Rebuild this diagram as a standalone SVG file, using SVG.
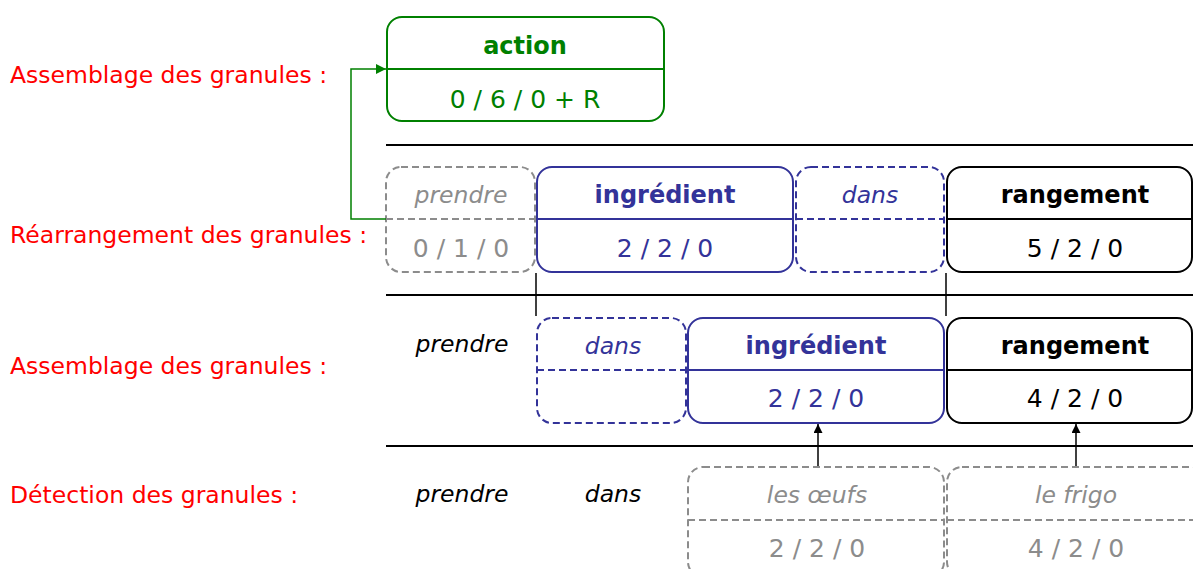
<svg xmlns="http://www.w3.org/2000/svg" width="1193" height="569" viewBox="0 0 1193 569">
<defs>
<style>
text{font-family:"DejaVu Sans","Liberation Sans",sans-serif;text-anchor:middle}
.lbl{fill:#ff0000;font-size:23.5px;text-anchor:start}
.ttl{font-size:24px;font-weight:bold}
.num{font-size:25px}
.it{font-size:23.5px;font-style:italic}
.box{fill:none;stroke-width:2}
.dash{stroke-dasharray:7 4}
.g{stroke:#008000}.gf{fill:#008000}
.b{stroke:#333399}.bf{fill:#333399}
.k{stroke:#000}.kf{fill:#000}
.y{stroke:#8c8c8c}.yf{fill:#8c8c8c}
.rule{stroke:#000;stroke-width:2}
</style>
<marker id="ag" markerWidth="10" markerHeight="10" refX="10" refY="5" orient="auto" markerUnits="userSpaceOnUse"><path d="M0,0 L10,5 L0,10 z" fill="#008000"/></marker>
<marker id="ak" markerWidth="9" markerHeight="9" refX="9" refY="4.5" orient="auto" markerUnits="userSpaceOnUse"><path d="M0,0 L9,4.5 L0,9 z" fill="#000"/></marker>
</defs>
<rect width="1193" height="569" fill="#fff"/>

<g id="labels">
<text class="lbl" x="10" y="83">Assemblage des granules :</text>
<text class="lbl" x="10" y="243">Réarrangement des granules :</text>
<text class="lbl" x="10" y="374">Assemblage des granules :</text>
<text class="lbl" x="10" y="503">Détection des granules :</text>
</g>

<g id="rules">
<line class="rule" x1="386" y1="145" x2="1193" y2="145"/>
<line class="rule" x1="386" y1="295" x2="1193" y2="295"/>
<line class="rule" x1="386" y1="446" x2="1193" y2="446"/>
</g>

<g id="action">
<rect class="box g" x="387" y="17" width="277" height="104" rx="15"/>
<line class="g" stroke-width="2" x1="387" y1="69" x2="664" y2="69"/>
<text class="ttl gf" x="525" y="54">action</text>
<text class="num gf" x="525" y="108">0 / 6 / 0 + R</text>
</g>

<g id="r2-prendre">
<rect class="box y dash" x="386" y="167" width="149" height="105" rx="15"/>
<line class="y dash" stroke-width="2" x1="386" y1="219" x2="535" y2="219"/>
<text class="it yf" x="461" y="203">prendre</text>
<text class="num yf" x="461" y="257">0 / 1 / 0</text>
</g>
<g id="r2-ingredient">
<rect class="box b" x="537" y="167" width="256" height="105" rx="15"/>
<line class="b" stroke-width="2" x1="537" y1="219" x2="793" y2="219"/>
<text class="ttl bf" x="665" y="203">ingrédient</text>
<text class="num bf" x="665" y="257">2 / 2 / 0</text>
</g>
<g id="r2-dans">
<rect class="box b dash" x="796" y="167" width="148" height="105" rx="15"/>
<line class="b dash" stroke-width="2" x1="796" y1="219" x2="944" y2="219"/>
<text class="it bf" x="870" y="203">dans</text>
</g>
<g id="r2-rangement">
<rect class="box k" x="947" y="167" width="245" height="105" rx="15"/>
<line class="k" stroke-width="2" x1="947" y1="219" x2="1192" y2="219"/>
<text class="ttl kf" x="1075" y="203">rangement</text>
<text class="num kf" x="1075" y="257">5 / 2 / 0</text>
</g>

<g id="r3-prendre">
<text class="it kf" x="462" y="352">prendre</text>
</g>
<g id="r3-dans">
<rect class="box b dash" x="537" y="318" width="149" height="105" rx="15"/>
<line class="b dash" stroke-width="2" x1="537" y1="370" x2="686" y2="370"/>
<text class="it bf" x="613" y="354">dans</text>
</g>
<g id="r3-ingredient">
<rect class="box b" x="688" y="318" width="256" height="105" rx="15"/>
<line class="b" stroke-width="2" x1="688" y1="370" x2="944" y2="370"/>
<text class="ttl bf" x="816" y="354">ingrédient</text>
<text class="num bf" x="816" y="407">2 / 2 / 0</text>
</g>
<g id="r3-rangement">
<rect class="box k" x="947" y="318" width="245" height="105" rx="15"/>
<line class="k" stroke-width="2" x1="947" y1="370" x2="1192" y2="370"/>
<text class="ttl kf" x="1075" y="354">rangement</text>
<text class="num kf" x="1075" y="407">4 / 2 / 0</text>
</g>

<g id="r4-prendre">
<text class="it kf" x="462" y="502">prendre</text>
</g>
<g id="r4-dans">
<text class="it kf" x="613" y="502">dans</text>
</g>
<g id="r4-oeufs">
<rect class="box y dash" x="688" y="467" width="256" height="110" rx="15"/>
<line class="y dash" stroke-width="2" x1="688" y1="520" x2="944" y2="520"/>
<text class="it yf" x="817" y="503">les œufs</text>
<text class="num yf" x="817" y="557">2 / 2 / 0</text>
</g>
<g id="r4-frigo">
<rect class="box y dash" x="947" y="467" width="260" height="110" rx="15"/>
<line class="y dash" stroke-width="2" x1="947" y1="520" x2="1193" y2="520"/>
<text class="it yf" x="1076" y="503">le frigo</text>
<text class="num yf" x="1076" y="557">4 / 2 / 0</text>
</g>

<g id="connectors" fill="none">
<polyline class="g" stroke-width="1.5" points="386,219 351,219 351,69 386,69" marker-end="url(#ag)"/>
<line class="k" stroke-width="1.5" x1="536" y1="273" x2="536" y2="316"/>
<line class="k" stroke-width="1.5" x1="946" y1="273" x2="946" y2="316"/>
<line class="k" stroke-width="1.5" x1="818" y1="466" x2="818" y2="424" marker-end="url(#ak)"/>
<line class="k" stroke-width="1.5" x1="1076" y1="466" x2="1076" y2="424" marker-end="url(#ak)"/>
</g>
</svg>
